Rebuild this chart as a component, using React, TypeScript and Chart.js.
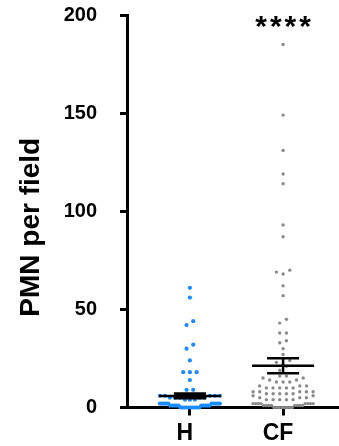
import React, { useEffect, useRef } from 'react';
import { Chart, registerables } from 'chart.js';

Chart.register(...registerables);

const categories = ['H', 'CF'];
const yTicks = [0, 50, 100, 150, 200];
const significance = '****';
const yTitle = 'PMN per field';

const hValues = [
  61, 56, 44, 42, 32, 30, 24, 18, 18, 18, 14, 9, 9,
  6, 6, 6, 6, 6, 5, 5, 5, 5, 5, 4, 4, 4,
  2, 2, 2, 2, 2, 2, 2, 2, 2, 2,
  1, 1, 1, 1, 1, 1, 1, 1, 1, 1,
  0, 0, 0, 0, 0, 0, 0, 0, 0, 0,
];
const cfValues = [
  185, 149, 131, 119, 114, 93, 87, 70, 69, 68, 62, 57, 45, 43, 38, 38, 34, 33,
  30, 27, 24, 23, 22, 21, 19, 16, 16,
  15, 15, 14, 14, 13, 13, 13,
  11, 11, 11, 10, 10, 10, 10, 10,
  8, 8, 8, 8, 8, 7, 7, 7, 7, 7,
  6, 6, 5, 5, 5, 4, 4, 4, 4, 4,
  2, 2, 2, 2, 2, 2, 2, 2,
  1, 1, 1, 1, 1, 1, 1, 1,
  0, 0, 0, 0, 0, 0, 0, 0,
];
const means = [5.9, 21.3];
const sems = [1.2, 3.8];

const COLORS = ['#1a8cff', '#8a8a8a'];
const FONT = '"Liberation Sans", Arial, Helvetica, sans-serif';

function swarm(values: number[], center: number, binUnits: number, spacingPx: number, maxHalfPx: number, pxPerUnitX: number) {
  const sorted = [...values].sort((a, b) => a - b);
  const rows: number[][] = [];
  let cur: number[] = [];
  for (const v of sorted) {
    if (cur.length && v - cur[0] >= binUnits) {
      rows.push(cur);
      cur = [];
    }
    cur.push(v);
  }
  if (cur.length) rows.push(cur);
  const pts: { x: number; y: number }[] = [];
  for (const row of rows) {
    const n = row.length;
    let sp = spacingPx;
    if (n > 1 && ((n - 1) * sp) / 2 > maxHalfPx) sp = (2 * maxHalfPx) / (n - 1);
    const slots: number[] = [];
    for (let i = 0; i < n; i++) slots.push((i - (n - 1) / 2) * sp);
    slots.sort((a, b) => Math.abs(a) - Math.abs(b) || a - b);
    row.forEach((v, k) => pts.push({ x: center + slots[k] / pxPerUnitX, y: v }));
  }
  return pts;
}

const groups = [hValues, cfValues];

function buildData(pxPerUnitX: number) {
  return groups.map((vals, i) => swarm(vals, i + 1, 2.6, 6.7, 30, pxPerUnitX));
}

const summaryPlugin = {
  id: 'summary',
  afterDatasetsDraw(chart: any) {
    const { ctx, scales } = chart;
    const x = scales.x;
    const y = scales.y;
    ctx.save();
    ctx.strokeStyle = '#000';
    ctx.lineWidth = 2.5;
    categories.forEach((_, i) => {
      const cx = x.getPixelForValue(i + 1);
      const ym = y.getPixelForValue(means[i]);
      const yu = y.getPixelForValue(means[i] + sems[i]);
      const yl = y.getPixelForValue(means[i] - sems[i]);
      ctx.beginPath();
      ctx.moveTo(cx - 31, ym);
      ctx.lineTo(cx + 31, ym);
      ctx.moveTo(cx - 16, yu);
      ctx.lineTo(cx + 16, yu);
      ctx.moveTo(cx - 16, yl);
      ctx.lineTo(cx + 16, yl);
      ctx.moveTo(cx, yu);
      ctx.lineTo(cx, yl);
      ctx.stroke();
    });
    ctx.restore();
  },
  afterDraw(chart: any) {
    const { ctx, scales, chartArea } = chart;
    ctx.save();
    ctx.fillStyle = '#000';
    ctx.font = `bold 28px ${FONT}`;
    ctx.textAlign = 'center';
    ctx.textBaseline = 'middle';
    ctx.translate(chartArea.left - 96, (chartArea.top + chartArea.bottom) / 2 + 16);
    ctx.rotate(-Math.PI / 2);
    ctx.fillText(yTitle, 0, 0);
    ctx.restore();
    ctx.save();
    ctx.fillStyle = '#000';
    ctx.font = `bold 30px ${FONT}`;
    ctx.textAlign = 'center';
    ctx.textBaseline = 'middle';
    try { (ctx as any).letterSpacing = '3px'; } catch (e) {}
    const sx = scales.x.getPixelForValue(2);
    const sy = scales.y.getPixelForValue(200) + 13;
    ctx.fillText(significance, sx + 1.5, sy);
    ctx.restore();
  },
};

export default function App() {
  const ref = useRef<HTMLCanvasElement>(null);
  useEffect(() => {
    if (!ref.current) return;
    const data0 = buildData(93.3);
    const chart = new Chart(ref.current, {
      type: 'scatter',
      data: {
        datasets: categories.map((c, i) => ({
          label: c,
          data: data0[i],
          backgroundColor: COLORS[i],
          borderWidth: 0,
          pointRadius: i === 0 ? 2.1 : 1.7,
          pointHoverRadius: i === 0 ? 2.1 : 1.7,
          clip: false as any,
        })),
      },
      options: {
        animation: false,
        responsive: false,
        events: [],
        layout: { autoPadding: false, padding: { top: 15, right: 0, left: 0, bottom: 0 } },
        plugins: { legend: { display: false }, tooltip: { enabled: false } },
        scales: {
          x: {
            type: 'linear',
            min: 0.325,
            max: 2.6,
            afterBuildTicks: (s: any) => {
              s.ticks = categories.map((_, i) => ({ value: i + 1 }));
            },
            afterFit: (s: any) => {
              s.height = 38.5;
              s.paddingLeft = 0;
              s.paddingRight = 0;
            },
            ticks: {
              callback: (v: any) => categories[Number(v) - 1] ?? '',
              color: '#000',
              font: { family: FONT, size: 23, weight: 'bold' },
              padding: 4,
              labelOffset: -5,
              maxRotation: 0,
              autoSkip: false,
            },
            grid: { display: true, drawOnChartArea: false, drawTicks: true, tickLength: 8, tickWidth: 3, tickColor: '#000', color: '#000' },
            border: { display: true, color: '#000', width: 3 },
          },
          y: {
            type: 'linear',
            min: 0,
            max: 200,
            afterBuildTicks: (s: any) => {
              s.ticks = yTicks.map((v) => ({ value: v }));
            },
            afterFit: (s: any) => {
              s.width = 127;
              s.paddingTop = 0;
              s.paddingBottom = 0;
            },
            ticks: {
              color: '#000',
              font: { family: FONT, size: 20, weight: 'bold' },
              padding: 23,
            },
            grid: { display: true, drawOnChartArea: false, drawTicks: true, tickLength: 7, tickWidth: 3, tickColor: '#000', color: '#000' },
            border: { display: true, color: '#000', width: 3 },
          },
        },
      } as any,
      plugins: [summaryPlugin],
    });
    const xs = chart.scales.x;
    const ppu = xs.getPixelForValue(2) - xs.getPixelForValue(1);
    const data1 = buildData(ppu);
    chart.data.datasets.forEach((d: any, i: number) => {
      d.data = data1[i];
    });
    chart.update();
    return () => chart.destroy();
  }, []);
  return (
    <div style={{ position: 'fixed', left: 0, top: 0, width: 339, height: 446, background: '#fff' }}>
      <canvas ref={ref} width={339} height={446} style={{ display: 'block' }} />
    </div>
  );
}
